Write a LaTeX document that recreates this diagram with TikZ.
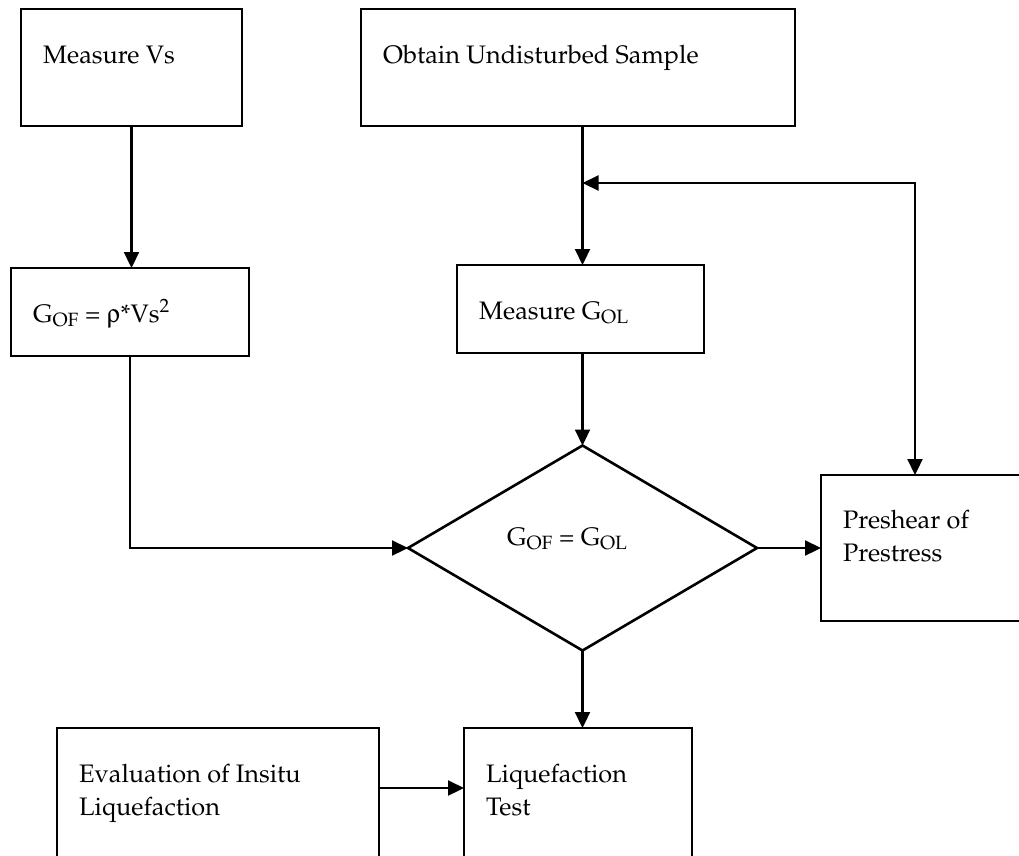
\documentclass[tikz,border=0pt]{standalone}
\usepackage[T1]{fontenc}
\usepackage{mathpazo}
\usepackage[Symbol]{upgreek}
\usepackage{tikz}
\usetikzlibrary{calc}
\usetikzlibrary{arrows.meta}
\usetikzlibrary{shapes.geometric}
\usetikzlibrary{positioning}

\begin{document}
\begin{tikzpicture}[x=1pt, y=-1pt,
  box/.style={draw, line width=2.6pt, rectangle, inner sep=0pt, outer sep=0pt},
  txt/.style={anchor=base west, inner sep=0pt, align=left,
    font=\fontsize{25.3}{32.5}\selectfont},
  link/.style={line width=2.2pt},
  >={Triangle[length=16pt, width=15pt]}]
  \clip (0,0) rectangle (1019,855);

  \node[box, minimum width=221pt, minimum height=117pt] (vs) at (131.5,67.5) {};
  \node[box, minimum width=434pt, minimum height=117pt] (sample) at (578,67.5) {};
  \node[box, minimum width=238pt, minimum height=88pt] (gof) at (130,312) {};
  \node[box, minimum width=247pt, minimum height=88pt] (gol) at (580.5,309) {};
  \node[box, diamond, minimum width=349pt, minimum height=205pt] (eq) at (582.5,548) {};
  \node[box, minimum width=230pt, minimum height=146pt] (pre) at (936,548) {};
  \node[box, minimum width=322pt, minimum height=140pt] (eval) at (218,798) {};
  \node[box, minimum width=228pt, minimum height=140pt] (liq) at (578,798) {};

  \foreach \n/\dy/\lbl in {vs/54/Measure Vs,
                           sample/54/Obtain Undisturbed Sample,
                           gof/54/G\textsubscript{OF} = $\uprho$*Vs\textsuperscript{2},
                           gol/54/Measure G\textsubscript{OL},
                           pre/86/Preshear of\\Prestress,
                           eval/87/Evaluation of Insitu\\Liquefaction,
                           liq/87/Liquefaction\\Test}
    \node[txt] (\n-t) at ($(\n.north west)+(22,\dy)$) {\lbl};
  \node[txt] (eq-t) at ($(eq.west)+(99,-3)$) {G\textsubscript{OF} = G\textsubscript{OL}};

  \coordinate (fb) at (eq.north |- 0,183);
  \coordinate (fbr) at ($(pre.north west)+(94,0)$);
  \coordinate (ev) at ($(eval.north east)+(0,60)$);

  \draw[link, ->] (vs.south) -- (vs.south |- gof.north);
  \draw[link, ->] (sample.south -| eq.north) -- (gol.north -| eq.north);
  \draw[link, ->] (gol.south -| eq.north) -- (eq.north);
  \draw[link, ->] (gof.south) |- (eq.west);
  \draw[link, ->] (eq.east) -- (pre.west);
  \draw[link, <->] (fb) -| (fbr);
  \draw[link, ->] (eq.south) -- (eq.south |- liq.north);
  \draw[link, ->] (ev) -- (ev -| liq.west);
\end{tikzpicture}
\end{document}
